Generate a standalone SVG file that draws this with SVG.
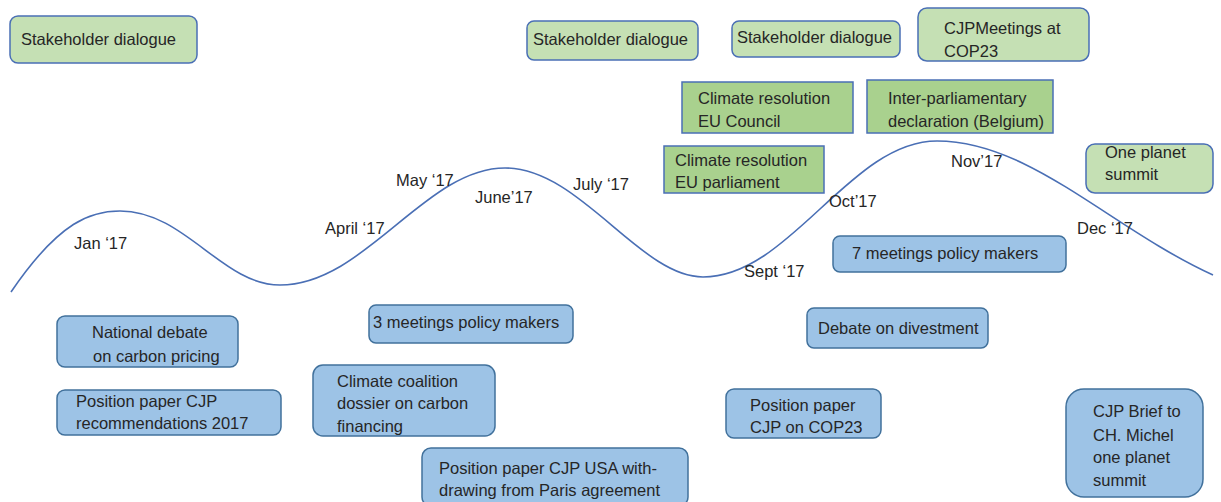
<svg xmlns="http://www.w3.org/2000/svg" width="1221" height="502" viewBox="0 0 1221 502">
<style>
text{font-family:"Liberation Sans",Arial,sans-serif;font-size:16.5px;fill:#262626}
.lg{fill:#c5e0b4;stroke:#4a6fb5;stroke-width:1.5}
.dg{fill:#a9d18e;stroke:#4a6fb5;stroke-width:1.5}
.bl{fill:#9dc3e6;stroke:#41719c;stroke-width:1.5}
.curve{fill:none;stroke:#4a6fb5;stroke-width:1.6}
</style>
<rect width="1221" height="502" fill="#ffffff"/>
<g id="timeline">
<path class="curve" d="M11,292 C60,220 92,211 120,211 C185,211 222,285 280,285 C365,285 425,168 505,168 C580,168 640,277 703,277 C790,277 850,141 937,141 C1030,141 1110,228 1213,275"/>
<text x="74" y="249">Jan ‘17</text>
<text x="325" y="234">April ‘17</text>
<text x="396" y="186">May ‘17</text>
<text x="475" y="203">June’17</text>
<text x="573" y="190">July ‘17</text>
<text x="744" y="277">Sept ‘17</text>
<text x="829" y="207">Oct’17</text>
<text x="951" y="167">Nov’17</text>
<text x="1077" y="234">Dec ‘17</text>
</g>
<g id="connectors"></g>
<g id="sd1"><rect class="lg" x="10" y="16" width="187" height="47" rx="8"/><text x="21" y="45">Stakeholder dialogue</text></g>
<g id="sd2"><rect class="lg" x="527" y="21" width="171" height="39" rx="7"/><text x="533" y="45">Stakeholder dialogue</text></g>
<g id="sd3"><rect class="lg" x="732" y="21" width="168" height="36" rx="7"/><text x="737" y="43">Stakeholder dialogue</text></g>
<g id="cop23meet"><rect class="lg" x="918" y="8" width="171" height="53" rx="9"/><text x="944" y="34">CJPMeetings at</text><text x="944" y="57">COP23</text></g>
<g id="euc"><rect class="dg" x="682" y="82" width="171" height="51"/><text x="698" y="104">Climate resolution</text><text x="698" y="127">EU Council</text></g>
<g id="interp"><rect class="dg" x="867" y="80" width="186" height="53"/><text x="888" y="104">Inter-parliamentary</text><text x="888" y="127">declaration (Belgium)</text></g>
<g id="eup"><rect class="dg" x="664" y="146" width="160" height="47"/><text x="675" y="166">Climate resolution</text><text x="675" y="188">EU parliament</text></g>
<g id="ops"><rect class="lg" x="1086" y="144" width="127" height="49" rx="9"/><text x="1105" y="158">One planet</text><text x="1105" y="180">summit</text></g>
<g id="natdeb"><rect class="bl" x="57" y="316" width="181" height="51" rx="8"/><text x="92" y="338">National debate</text><text x="93" y="362">on carbon pricing</text></g>
<g id="pp2017"><rect class="bl" x="57" y="390" width="224" height="45" rx="8"/><text x="76" y="407">Position paper CJP</text><text x="76" y="429">recommendations 2017</text></g>
<g id="meet3"><rect class="bl" x="369" y="305" width="204" height="38" rx="7"/><text x="373" y="328">3 meetings policy makers</text></g>
<g id="coal"><rect class="bl" x="313" y="365" width="182" height="71" rx="10"/><text x="337" y="387">Climate coalition</text><text x="337" y="409">dossier on carbon</text><text x="337" y="432">financing</text></g>
<g id="ppusa"><rect class="bl" x="422" y="448" width="266" height="58" rx="9"/><text x="439" y="474">Position paper CJP USA with-</text><text x="439" y="496">drawing from Paris agreement</text></g>
<g id="meet7"><rect class="bl" x="833" y="236" width="233" height="36" rx="7"/><text x="852" y="259">7 meetings policy makers</text></g>
<g id="divest"><rect class="bl" x="807" y="308" width="181" height="40" rx="7"/><text x="818" y="334">Debate on divestment</text></g>
<g id="ppcop"><rect class="bl" x="726" y="389" width="155" height="49" rx="8"/><text x="750" y="411">Position paper</text><text x="750" y="433">CJP on COP23</text></g>
<g id="brief"><rect class="bl" x="1066" y="389" width="137" height="108" rx="18"/><text x="1093" y="417">CJP Brief to</text><text x="1093" y="441">CH. Michel</text><text x="1093" y="463">one planet</text><text x="1093" y="486">summit</text></g>
</svg>
